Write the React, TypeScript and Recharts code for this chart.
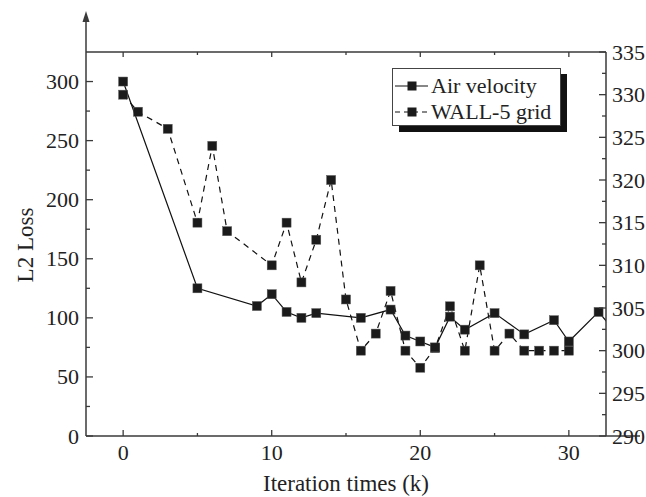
import React from "react";
import { LineChart, Line, XAxis, YAxis } from "recharts";

// Air velocity (solid, left axis)
const airX = [0, 5, 9, 10, 11, 12, 13, 16, 18, 19, 20, 21, 22, 23, 25, 27, 29, 30, 32, 33];
const airLoss = [300, 125, 110, 120, 105, 100, 104, 100, 107, 85, 80, 75, 101, 90, 104, 86, 98, 80, 105, 90];

// WALL-5 grid (dashed, right axis)
const wallX = [0, 1, 3, 5, 6, 7, 10, 11, 12, 13, 14, 15, 16, 17, 18, 19, 20, 21, 22, 23, 24, 25, 26, 27, 28, 29, 30];
const wallGrid = [330, 328, 326, 315, 324, 314, 310, 315, 308, 313, 320, 306, 300, 302, 307, 300, 298, 300.3, 305.2, 300, 310, 300, 302, 300, 300, 300, 300];

const xTicks = [0, 5, 10, 15, 20, 25, 30];
const xMajor = [0, 10, 20, 30];
const leftTicks = [0, 25, 50, 75, 100, 125, 150, 175, 200, 225, 250, 275, 300];
const leftMajor = [0, 50, 100, 150, 200, 250, 300];
const rightTicks = [290, 292.5, 295, 297.5, 300, 302.5, 305, 307.5, 310, 312.5, 315, 317.5, 320, 322.5, 325, 327.5, 330, 332.5, 335];
const rightMajor = [290, 295, 300, 305, 310, 315, 320, 325, 330, 335];

const airData = airX.map((x, i) => ({ x, v: airLoss[i] }));
const wallData = wallX.map((x, i) => ({ x, v: wallGrid[i] }));

const AXIS = "#3a3a3a";
const INK = "#1b1b1b";
const FONT = "'Liberation Serif', 'DejaVu Serif', serif";
const TICK_FS = 22;

const BottomTick = (props: any) => {
  const { x, y, payload } = props;
  const major = xMajor.includes(payload.value);
  return (
    <g>
      <line x1={x} x2={x} y1={y} y2={y - (major ? 6 : 3)} stroke={AXIS} strokeWidth={1.3} />
      {major && (
        <text x={x} y={y + 24} textAnchor="middle" fontSize={TICK_FS} fontFamily={FONT} fill="#222">
          {payload.value}
        </text>
      )}
    </g>
  );
};

const TopTick = (props: any) => {
  const { x, y, payload } = props;
  const major = xMajor.includes(payload.value);
  return <line x1={x} x2={x} y1={y} y2={y + (major ? 5 : 3)} stroke={AXIS} strokeWidth={1.3} />;
};

const LeftTick = (props: any) => {
  const { x, y, payload } = props;
  const major = leftMajor.includes(payload.value);
  return (
    <g>
      <line x1={x} x2={x + (major ? 7 : 4)} y1={y} y2={y} stroke={AXIS} strokeWidth={1.3} />
      {major && (
        <text x={x - 7} y={y + 7.5} textAnchor="end" fontSize={TICK_FS} fontFamily={FONT} fill="#222">
          {payload.value}
        </text>
      )}
    </g>
  );
};

const RightTick = (props: any) => {
  const { x, y, payload } = props;
  const major = rightMajor.includes(payload.value);
  return (
    <g>
      <line x1={x} x2={x - (major ? 7 : 4)} y1={y} y2={y} stroke={AXIS} strokeWidth={1.3} />
      {major && (
        <text x={x + 6} y={y + 7.5} textAnchor="start" fontSize={TICK_FS} fontFamily={FONT} fill="#222">
          {payload.value}
        </text>
      )}
    </g>
  );
};

const SquareDot = (props: any) => {
  const { cx, cy, index } = props;
  if (cx == null || cy == null) return <g key={index} />;
  return <rect key={index} x={cx - 4.5} y={cy - 4.5} width={9} height={9} fill={INK} stroke="#555" strokeWidth={0.5} />;
};

export default function App() {
  return (
    <div style={{ position: "absolute", left: 0, top: 0, background: "#fff" }}>
      <LineChart width={646} height={497} margin={{ top: 42, right: 0, bottom: 0, left: 0 }}>
        <XAxis
          dataKey="x"
          type="number"
          domain={[-2.5, 32.5]}
          allowDataOverflow
          ticks={xTicks}
          interval={0}
          height={61}
          tickLine={false}
          tickSize={0}
          tickMargin={0}
          tick={<BottomTick />}
          axisLine={{ stroke: AXIS, strokeWidth: 1.5 }}
        />
        <XAxis
          xAxisId="top"
          orientation="top"
          dataKey="x"
          type="number"
          domain={[-2.5, 32.5]}
          allowDataOverflow
          ticks={xTicks}
          interval={0}
          height={10}
          tickLine={false}
          tickSize={0}
          tickMargin={0}
          tick={<TopTick />}
          axisLine={{ stroke: AXIS, strokeWidth: 1.5 }}
        />
        <YAxis
          yAxisId="left"
          type="number"
          domain={[0, 325]}
          allowDataOverflow
          ticks={leftTicks}
          interval={0}
          width={86}
          tickLine={false}
          tickSize={0}
          tickMargin={0}
          tick={<LeftTick />}
          axisLine={{ stroke: AXIS, strokeWidth: 1.5 }}
        />
        <YAxis
          yAxisId="right"
          orientation="right"
          type="number"
          domain={[290, 335]}
          allowDataOverflow
          ticks={rightTicks}
          interval={0}
          width={40}
          tickLine={false}
          tickSize={0}
          tickMargin={0}
          tick={<RightTick />}
          axisLine={{ stroke: AXIS, strokeWidth: 1.5 }}
        />
        <Line
          data={wallData}
          dataKey="v"
          yAxisId="right"
          type="linear"
          stroke="#111"
          strokeWidth={1.2}
          strokeDasharray="6 5"
          dot={SquareDot}
          activeDot={false}
          isAnimationActive={false}
        />
        <Line
          data={airData}
          dataKey="v"
          yAxisId="left"
          type="linear"
          stroke="#111"
          strokeWidth={1.2}
          dot={SquareDot}
          activeDot={false}
          isAnimationActive={false}
        />

        {/* left axis extension with arrow */}
        <line x1={86} x2={86} y1={52} y2={20} stroke={AXIS} strokeWidth={1.5} />
        <polygon points="86,11 82.5,22 89.5,22" fill={AXIS} />
        {/* bottom axis runs a little past the right axis */}
        <line x1={606} x2={640} y1={436} y2={436} stroke={AXIS} strokeWidth={1.5} />

        {/* legend */}
        <rect x={399} y={74} width={168} height={58} fill="#111" />
        <rect x={392.5} y={68.5} width={168} height={57} fill="#fff" stroke="#444" strokeWidth={1} />
        <line x1={395} x2={428} y1={86} y2={86} stroke="#111" strokeWidth={1.2} />
        <rect x={407.5} y={81.5} width={9} height={9} fill={INK} />
        <text x={431} y={93} fontSize={22} fontFamily={FONT} fill="#222">Air velocity</text>
        <line x1={395} x2={428} y1={112} y2={112} stroke="#111" strokeWidth={1.2} strokeDasharray="5 4" />
        <rect x={407.5} y={107.5} width={9} height={9} fill={INK} />
        <text x={431} y={119} fontSize={22} fontFamily={FONT} fill="#222">WALL-5 grid</text>

        {/* axis titles */}
        <text
          x={25}
          y={245}
          transform="rotate(-90 25 245)"
          textAnchor="middle"
          dominantBaseline="central"
          fontSize={23}
          fontFamily={FONT}
          fill="#222"
        >
          L2 Loss
        </text>
        <text x={346} y={491} textAnchor="middle" fontSize={23} fontFamily={FONT} fill="#222">
          Iteration times (k)
        </text>
      </LineChart>
    </div>
  );
}
